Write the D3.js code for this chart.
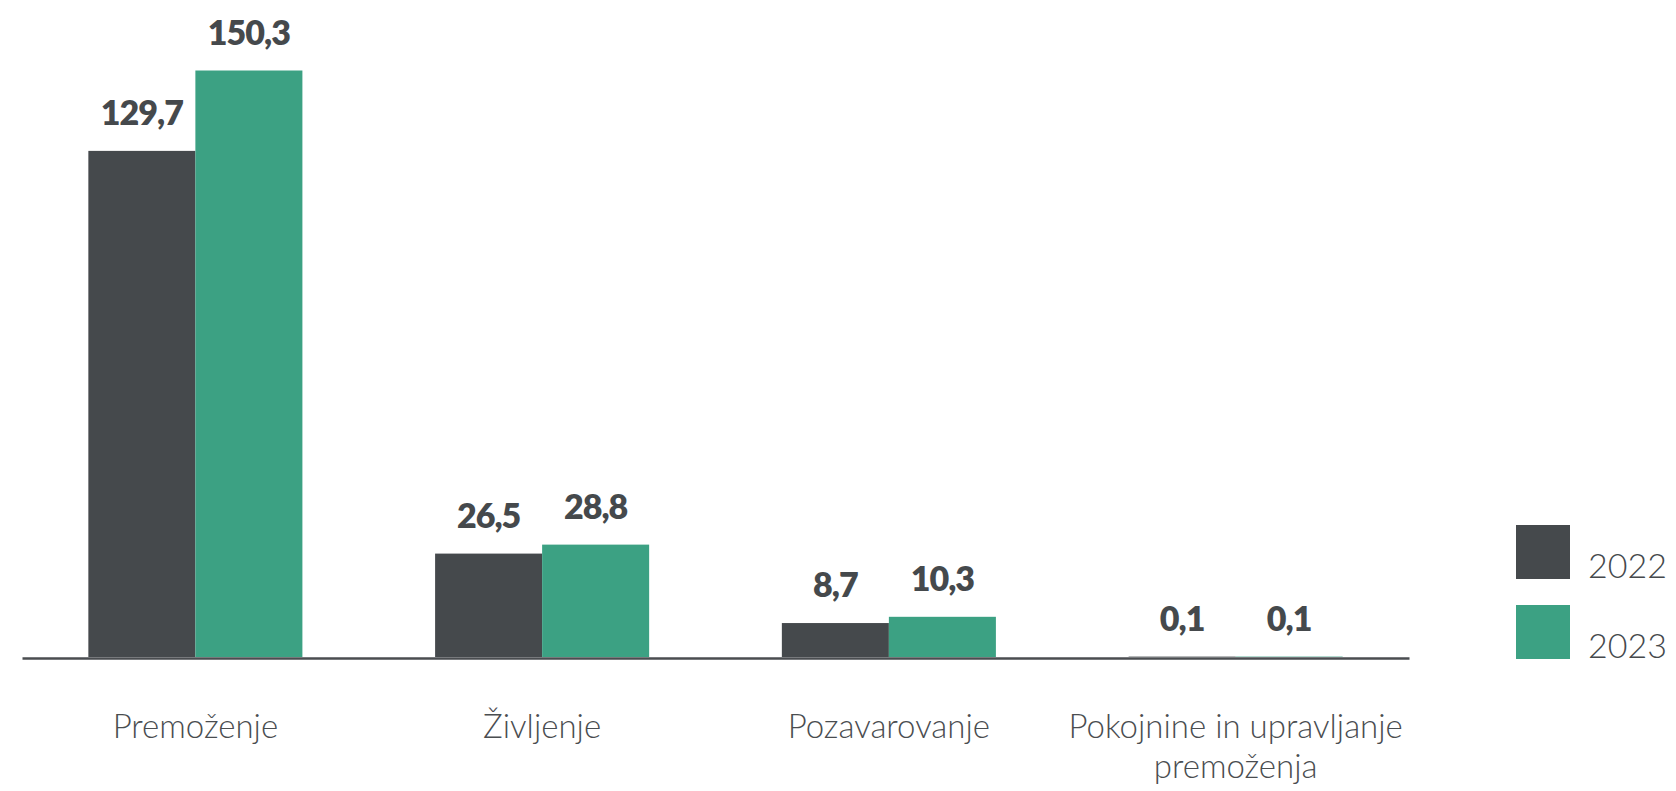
<!DOCTYPE html>
<html>
<head>
<meta charset="utf-8">
<script src="https://cdn.jsdelivr.net/npm/d3@7"></script>
<style>
  html, body { margin: 0; padding: 0; background: #ffffff; }
  svg { display: block; }
</style>
</head>
<body>
<svg id="chart" width="1676" height="791"></svg>
<script>
const categories = [
  ["Premoženje"],
  ["Življenje"],
  ["Pozavarovanje"],
  ["Pokojnine in upravljanje", "premoženja"]
];
const seriesNames = ["2022", "2023"];
const values2022 = [129.7, 26.5, 8.7, 0.1];
const values2023 = [150.3, 28.8, 10.3, 0.1];
const valueLabels2022 = ["129,7", "26,5", "8,7", "0,1"];
const valueLabels2023 = ["150,3", "28,8", "10,3", "0,1"];
const colors = ["#45494c", "#3ca183"];

const svg = d3.select("#chart");
const catKeys = categories.map(c => c.join(" "));

const x0 = d3.scaleBand().domain(catKeys).range([22, 1409]).paddingInner(0).paddingOuter(0);
const x1 = d3.scaleBand().domain(seriesNames).range([0, x0.bandwidth()]).paddingInner(0).paddingOuter(0.62);
const y = d3.scaleLinear().domain([0, d3.max(values2023)]).range([657, 70.5]);

const rows = catKeys.map((k, i) => ({
  key: k,
  lines: categories[i],
  vals: [
    {s: "2022", v: values2022[i], label: valueLabels2022[i]},
    {s: "2023", v: values2023[i], label: valueLabels2023[i]}
  ]
}));
const color = d3.scaleOrdinal().domain(seriesNames).range(colors);

const groups = svg.append("g").selectAll("g").data(rows).join("g")
  .attr("transform", d => `translate(${x0(d.key)},0)`);

groups.selectAll("rect").data(d => d.vals).join("rect")
  .attr("x", d => x1(d.s))
  .attr("width", x1.bandwidth())
  .attr("y", d => y(d.v))
  .attr("height", d => y(0) - y(d.v))
  .attr("fill", d => color(d.s));

groups.selectAll("text.val").data(d => d.vals).join("text")
  .attr("class", "val")
  .attr("x", d => x1(d.s) + x1.bandwidth() / 2)
  .attr("y", d => y(d.v) - 26)
  .attr("text-anchor", "middle")
  .attr("font-family", "Lato, 'Open Sans', sans-serif")
  .attr("font-weight", 800)
  .attr("font-size", "34px")
  .attr("letter-spacing", "-1px")
  .attr("fill", "#45494c")
  .text(d => d.label);

// x axis
const xAxis = d3.axisBottom(x0).tickSize(0).tickFormat(() => "");
const axG = svg.append("g").attr("transform", `translate(0,${y(0) + 1})`).call(xAxis);
axG.select(".domain").attr("stroke", "#4a4d50").attr("stroke-width", 2.6);

// category labels
const labG = svg.append("g");
rows.forEach(r => {
  const t = labG.append("text")
    .attr("x", x0(r.key) + x0.bandwidth() / 2)
    .attr("y", 738)
    .attr("text-anchor", "middle")
    .attr("font-family", "Lato, 'Open Sans', sans-serif")
    .attr("font-weight", 300)
    .attr("font-size", "33px")
    .attr("fill", "#4a4d50");
  r.lines.forEach((ln, i) => {
    t.append("tspan").attr("x", x0(r.key) + x0.bandwidth() / 2).attr("dy", i === 0 ? 0 : 40).text(ln);
  });
});

// legend
const legend = svg.append("g");
const legendY = d3.scaleBand().domain(seriesNames).range([525, 685]).paddingInner(0).paddingOuter(0);
seriesNames.forEach((s, i) => {
  const yy = 525 + i * 80;
  legend.append("rect").attr("x", 1516).attr("y", yy).attr("width", 54).attr("height", 54).attr("fill", color(s));
  legend.append("text")
    .attr("x", 1588).attr("y", yy + 53)
    .attr("font-family", "Lato, 'Open Sans', sans-serif")
    .attr("font-weight", 300)
    .attr("font-size", "34px")
    .attr("fill", "#45494c")
    .text(s);
});
</script>
</body>
</html>
